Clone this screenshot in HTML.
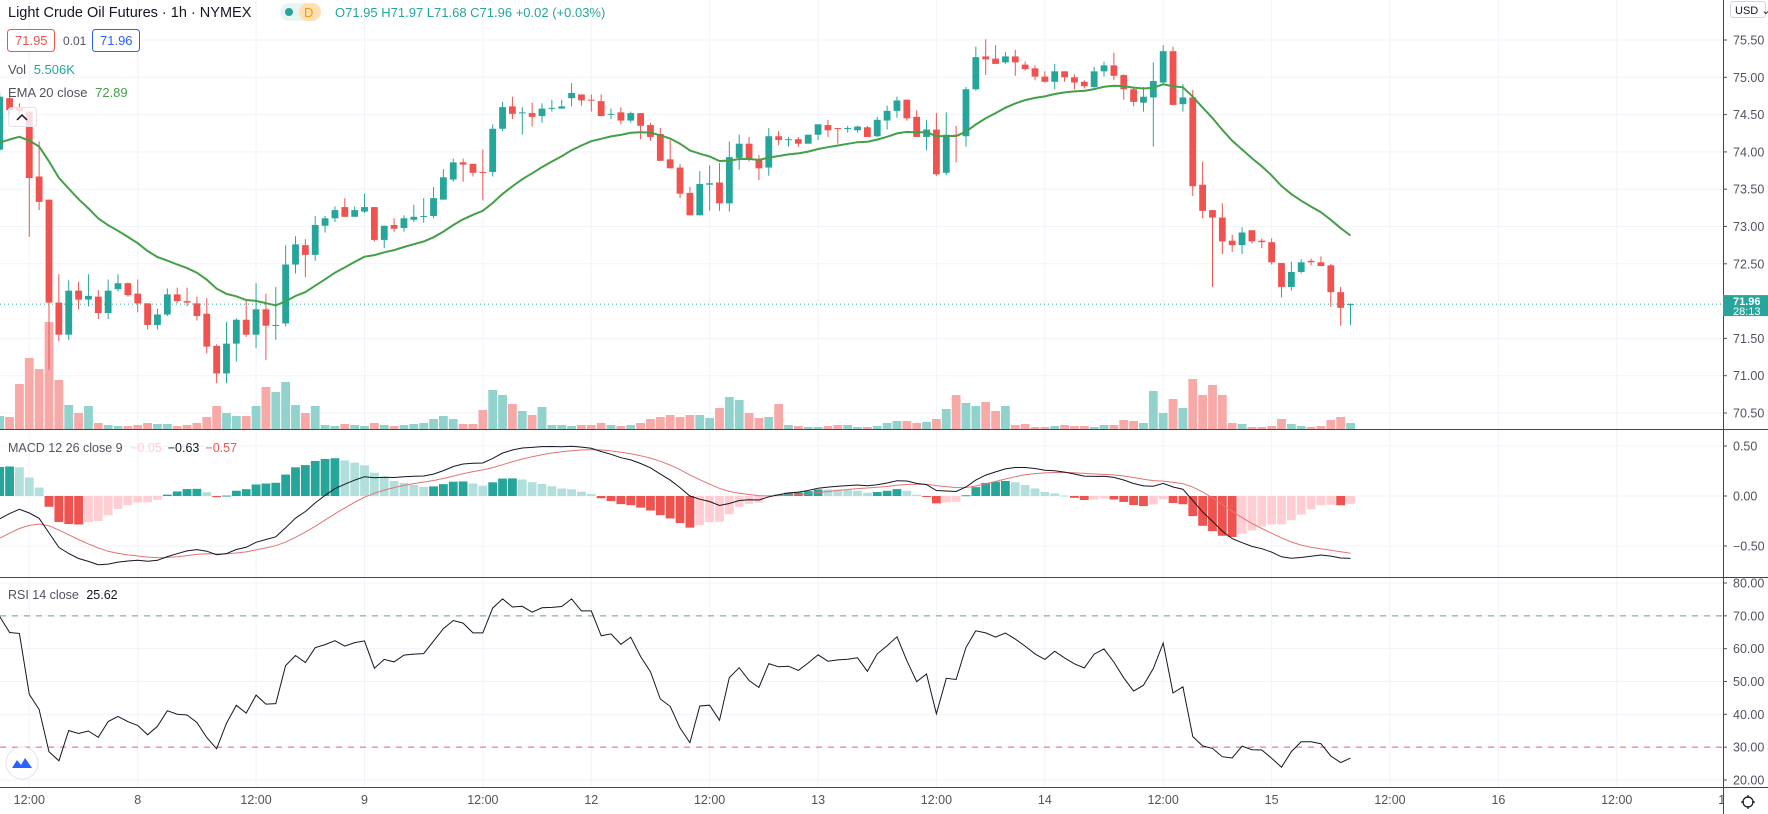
<!DOCTYPE html>
<html><head><meta charset="utf-8"><style>
html,body{margin:0;padding:0;background:#fff;}
svg{display:block;font-family:"Liberation Sans",sans-serif;}
</style></head><body>
<svg id="chart" width="1768" height="814" viewBox="0 0 1768 814" xmlns="http://www.w3.org/2000/svg">
<defs>
<clipPath id="mainClip"><rect x="0" y="0" width="1723" height="429"/></clipPath>
<clipPath id="macdClip"><rect x="0" y="430" width="1723" height="147"/></clipPath>
<clipPath id="rsiClip"><rect x="0" y="578" width="1723" height="209"/></clipPath>
</defs>
<g id="grid"></g>
<g id="vol" clip-path="url(#mainClip)"></g>
<g id="candles" clip-path="url(#mainClip)"></g>
<g id="ema" clip-path="url(#mainClip)"></g>
<g id="macd" clip-path="url(#macdClip)"></g>
<g id="rsi" clip-path="url(#rsiClip)"></g>
<g id="axes"></g>

<!-- header legend -->
<text x="8" y="17" font-size="14.5" fill="#131722">Light Crude Oil Futures · 1h · NYMEX</text>
<rect x="280" y="3" width="41" height="18" rx="9" fill="#e8f5f3"/>
<circle cx="289" cy="12" r="4" fill="#26a69a"/>
<rect x="299" y="3" width="22" height="18" rx="9" fill="#ffe0b2"/>
<text x="304" y="17" font-size="13" fill="#ff9800">D</text>
<text x="335" y="17" font-size="13" fill="#26a69a">O71.95  H71.97  L71.68  C71.96  +0.02 (+0.03%)</text>
<rect x="7.5" y="29.5" width="47" height="22" rx="3" fill="#fff" stroke="#ef5350"/>
<text x="15" y="45" font-size="13" fill="#ef5350">71.95</text>
<text x="63" y="45" font-size="12" fill="#50535e">0.01</text>
<rect x="92.5" y="29.5" width="47" height="22" rx="3" fill="#fff" stroke="#2962ff"/>
<text x="100" y="45" font-size="13" fill="#2962ff">71.96</text>
<text x="8" y="74" font-size="13" fill="#50535e">Vol <tspan fill="#26a69a" dx="4">5.506K</tspan></text>
<text x="8" y="97" font-size="13" fill="#50535e">EMA 20 close <tspan fill="#43a047" dx="4">72.89</tspan></text>
<rect x="8.5" y="107.5" width="28" height="19" rx="3" fill="#fff" fill-opacity="0.8" stroke="#e0e3eb"/>
<path d="M17 120 L22 115 L27 120" fill="none" stroke="#131722" stroke-width="1.5"/>

<text x="8" y="452" font-size="12.5" fill="#50535e">MACD 12 26 close 9 <tspan fill="#ffcdd2" dx="4">−0.05</tspan><tspan fill="#131722" dx="6">−0.63</tspan><tspan fill="#ef5350" dx="6">−0.57</tspan></text>
<text x="8" y="599" font-size="12.5" fill="#50535e">RSI 14 close <tspan fill="#131722" dx="4">25.62</tspan></text>

<circle cx="22" cy="763" r="16" fill="#fff" stroke="#e0e3eb"/>
<path d="M12 768 L17 760 L21 765 L25 758 L32 768 Z" fill="#2962ff"/>

<rect x="1730.5" y="1.5" width="35" height="16" rx="3" fill="#fff" stroke="#d1d4dc"/>
<text x="1735" y="14" font-size="11" fill="#131722">USD ⌄</text>
<g><circle cx="1748" cy="802" r="5" fill="none" stroke="#131722" stroke-width="1.2"/><path d="M1748 795v3M1748 806v3M1741 802h3M1752 802h3" stroke="#131722" stroke-width="1.2"/></g>
</svg>
<script>
const opens=[74.03,74.72,74.60,74.54,73.67,73.36,71.98,71.55,72.14,72.02,72.06,71.84,72.16,72.24,72.10,71.97,71.68,71.82,72.09,72.00,71.97,71.83,71.40,71.03,71.43,71.75,71.55,71.89,71.67,71.70,72.49,72.75,72.62,73.01,73.11,73.26,73.13,73.20,73.26,72.82,73.02,72.98,73.09,73.13,73.14,73.36,73.63,73.86,73.84,73.73,73.73,74.31,74.61,74.52,74.52,74.48,74.58,74.58,74.72,74.77,74.70,74.68,74.50,74.53,74.42,74.52,74.36,74.24,73.90,73.79,73.45,73.15,73.56,73.59,73.31,73.92,74.11,73.90,73.79,74.21,74.16,74.17,74.11,74.23,74.36,74.32,74.31,74.29,74.33,74.21,74.42,74.55,74.70,74.47,74.20,74.30,73.72,74.23,74.21,74.84,75.28,75.25,75.20,75.28,75.17,75.12,75.01,74.94,75.08,75.00,74.94,74.87,75.08,75.16,75.03,74.84,74.66,74.73,74.93,75.35,74.64,74.73,73.56,73.22,73.12,72.81,72.75,72.95,72.81,72.79,72.51,72.19,72.39,72.54,72.52,72.48,72.12,71.95];
const highs=[74.80,74.76,74.65,74.56,74.14,73.36,72.36,72.28,72.26,72.36,72.15,72.29,72.36,72.25,72.29,71.97,71.90,72.17,72.18,72.18,72.06,72.04,71.42,71.72,71.77,72.01,72.24,72.10,72.19,72.75,72.87,72.83,73.14,73.14,73.27,73.38,73.27,73.44,73.26,73.01,73.11,73.15,73.29,73.38,73.53,73.77,73.91,73.91,73.84,74.03,74.37,74.67,74.74,74.60,74.66,74.65,74.70,74.70,74.92,74.77,74.77,74.77,74.58,74.60,74.54,74.52,74.39,74.32,74.16,73.84,73.53,73.74,73.82,73.85,74.14,74.23,74.20,73.96,74.32,74.28,74.20,74.20,74.23,74.37,74.43,74.32,74.35,74.35,74.35,74.47,74.62,74.74,74.70,74.56,74.43,74.52,74.53,74.35,74.87,75.41,75.51,75.43,75.34,75.37,75.21,75.16,75.08,75.18,75.08,75.04,74.96,75.14,75.21,75.33,75.04,74.87,74.87,75.20,75.43,75.41,74.91,74.83,73.87,73.22,73.31,72.89,72.99,72.95,72.84,72.84,72.51,72.53,72.56,72.57,72.60,72.50,72.19,71.97];
const lows=[74.00,74.50,74.50,72.86,73.22,71.08,71.46,71.48,71.89,71.93,71.76,71.76,72.13,72.06,71.85,71.62,71.62,71.80,71.97,71.93,71.74,71.30,70.90,70.90,71.19,71.52,71.37,71.21,71.48,71.66,72.37,72.32,72.54,72.92,73.06,73.13,73.13,73.18,72.80,72.71,72.93,72.93,73.06,73.05,73.11,73.36,73.60,73.60,73.67,73.35,73.67,74.28,74.44,74.23,74.34,74.39,74.54,74.58,74.61,74.62,74.54,74.48,74.44,74.37,74.39,74.17,74.15,73.88,73.78,73.38,73.15,73.15,73.21,73.21,73.20,73.76,73.87,73.62,73.68,74.09,74.07,74.07,74.11,74.16,74.20,74.11,74.26,74.26,74.20,74.20,74.30,74.46,74.42,74.20,74.02,73.68,73.69,73.86,74.07,74.82,75.03,75.18,75.18,75.02,75.09,74.96,74.93,74.84,74.94,74.84,74.85,74.85,75.01,74.96,74.70,74.61,74.54,74.07,74.90,74.62,74.54,73.41,73.11,72.19,72.63,72.66,72.63,72.77,72.71,72.49,72.05,72.14,72.37,72.48,72.47,71.92,71.67,71.68];
const closes=[74.74,74.56,74.55,73.65,73.33,71.98,71.55,72.14,72.02,72.07,71.84,72.14,72.24,72.08,71.97,71.68,71.82,72.09,72.00,71.98,71.80,71.39,71.03,71.43,71.75,71.55,71.89,71.67,71.68,72.49,72.76,72.62,73.02,73.11,73.22,73.13,73.22,73.26,72.82,73.01,72.97,73.11,73.13,73.14,73.38,73.66,73.86,73.83,73.72,73.72,74.31,74.60,74.51,74.53,74.47,74.58,74.59,74.61,74.79,74.69,74.69,74.48,74.51,74.42,74.52,74.35,74.20,73.88,73.78,73.44,73.15,73.57,73.58,73.31,73.93,74.11,73.90,73.78,74.21,74.16,74.17,74.11,74.23,74.37,74.29,74.31,74.32,74.34,74.20,74.43,74.55,74.69,74.45,74.20,74.30,73.70,74.23,74.21,74.84,75.27,75.24,75.18,75.28,75.20,75.11,75.01,74.94,75.08,75.00,74.93,74.88,75.08,75.16,75.02,74.84,74.67,74.74,74.95,75.35,74.63,74.73,73.54,73.21,73.12,72.80,72.75,72.92,72.80,72.79,72.52,72.19,72.39,72.52,72.52,72.47,72.12,71.91,71.96];
const volumes=[13,12,45,71,60,107,49,24,16,23,6,4,3,3,4,6,5,5,3,4,6,12,23,16,13,13,23,42,37,47,24,16,23,4,3,5,4,3,6,4,3,4,5,6,10,13,10,5,5,19,39,34,25,18,14,22,4,4,3,4,4,6,4,3,4,6,10,12,14,12,14,14,11,21,32,29,16,11,12,25,4,3,2,2,3,4,4,2,2,3,6,8,8,6,7,10,20,34,26,23,27,18,23,4,5,2,2,3,4,3,3,2,4,4,9,8,6,38,16,30,21,50,34,44,34,6,5,2,2,3,10,5,3,2,3,9,12,6];
const priceTicks=["75.50","75.00","74.50","74.00","73.50","73.00","72.50","72.00","71.50","71.00","70.50"];
const macdTicks=["0.50","0.00","−0.50"];
const rsiTicks=["80.00","70.00","60.00","50.00","40.00","30.00","20.00"];
const timeTickIdx=[3,14,26,37,49,60,72,83,95,106,118,129,141,152,164,175];
const timeTickLabels=["12:00","8","12:00","9","12:00","12","12:00","13","12:00","14","12:00","15","12:00","16","12:00","17"];
const lastPrice=71.96, lastCountdown="28:13";

const NS="http://www.w3.org/2000/svg";
const X0=-0.3, STEP=9.86, AXX=1723;
function xOf(i){return X0+STEP*i;}
function priceY(p){return 40+(75.5-p)*74.6;}
function volY(v){return 429-v*1.0;}
function macdY(v){return 496-v*100;}
function histY(v){return 496-v*150;}
function rsiY(v){return 780-(v-20)*3.283;}
function el(tag,attrs,parent){const e=document.createElementNS(NS,tag);for(const k in attrs)e.setAttribute(k,attrs[k]);parent.appendChild(e);return e;}

const grid=document.getElementById('grid');
const axes=document.getElementById('axes');
const UP="#26a69a", DN="#ef5350";

// vertical grid + time labels
timeTickIdx.forEach((ti,k)=>{
  const x=xOf(ti);
  if(x<AXX){const g=el('line',{x1:x,x2:x,y1:0,y2:787,stroke:"#f0f3fa","stroke-width":1},grid);
  
  }
  const t=el('text',{x:x,y:804,"font-size":12.5,fill:"#50535e","text-anchor":"middle"},axes);
  t.textContent=timeTickLabels[k];
  
  
});
// cover beyond axis for time labels
el('rect',{x:AXX,y:788,width:45,height:26,fill:"#fff"},axes);
// price grid + labels
priceTicks.forEach(s=>{
  const y=priceY(parseFloat(s));
  const g=el('line',{x1:0,x2:AXX,y1:y,y2:y,stroke:"#f0f3fa"},grid);
  
  
  el('line',{x1:AXX,x2:AXX+4,y1:y,y2:y,stroke:"#50535e"},axes);
  const t=el('text',{x:1733,y:y+4.5,"font-size":12.5,fill:"#50535e"},axes);
  t.textContent=s;
  
  
});
macdTicks.forEach(s=>{
  const y=macdY(parseFloat(s.replace('−','-')));
  const g=el('line',{x1:0,x2:AXX,y1:y,y2:y,stroke:"#f0f3fa"},grid);
  
  
  el('line',{x1:AXX,x2:AXX+4,y1:y,y2:y,stroke:"#50535e"},axes);
  const t=el('text',{x:1733,y:y+4.5,"font-size":12.5,fill:"#50535e"},axes);
  t.textContent=s;
  
  
});
rsiTicks.forEach(s=>{
  const y=rsiY(parseFloat(s));
  const g=el('line',{x1:0,x2:AXX,y1:y,y2:y,stroke:"#f0f3fa"},grid);
  
  
  el('line',{x1:AXX,x2:AXX+4,y1:y,y2:y,stroke:"#50535e"},axes);
  const t=el('text',{x:1733,y:y+4.5,"font-size":12.5,fill:"#50535e"},axes);
  t.textContent=s;
  
  
});
// RSI bands
[[70,"#6b9e86"],[30,"#e06666"]].forEach(([v,c])=>{
  const l=el('line',{x1:0,x2:AXX,y1:rsiY(v),y2:rsiY(v),stroke:c,"stroke-dasharray":"6 6","stroke-width":1},grid);
  
  
});
// pane separators and axis
[[429],[577],[787]].forEach(([y])=>{
  const l=el('line',{x1:0,x2:1768,y1:y+0.5,y2:y+0.5,stroke:"#434651","stroke-width":1},axes);
  
  
});
const ax=el('line',{x1:AXX+0.5,x2:AXX+0.5,y1:0,y2:814,stroke:"#434651"},axes);



// volume
const volG=document.getElementById('vol');
volumes.forEach((v,i)=>{
  const up=closes[i]>=opens[i];
  const r=el('rect',{x:xOf(i)-4.4,y:volY(v),width:8.8,height:429-volY(v),fill:up?"#92d2cc":"#f7a9a7"},volG);
  
  
});
// last price line
const lp=el('line',{x1:0,x2:AXX,y1:priceY(lastPrice),y2:priceY(lastPrice),stroke:"#26a69a","stroke-dasharray":"1 3"},document.getElementById('candles'));


// candles
const cG=document.getElementById('candles');
closes.forEach((c,i)=>{
  const o=opens[i],up=c>=o,col=up?UP:DN,x=xOf(i);
  const w=el('line',{x1:x,x2:x,y1:priceY(highs[i]),y2:priceY(lows[i]),stroke:col,"stroke-width":1},cG);
  
  
  const yt=priceY(Math.max(o,c)),yb=priceY(Math.min(o,c));
  const b=el('rect',{x:x-3.4,y:yt,width:6.8,height:Math.max(1,yb-yt),fill:col},cG);
  
  
});
// EMA 20
let e20=74.06; const emaPts=[];
closes.forEach((c,i)=>{e20=e20+(2/21)*(c-e20);emaPts.push(xOf(i).toFixed(1)+","+priceY(e20).toFixed(1));});
const emaL=el('polyline',{points:emaPts.join(" "),fill:"none",stroke:"#43a047","stroke-width":2},document.getElementById('ema'));


// MACD
let e12=74.0,e26=74.31,sig=-0.47;const mPts=[],sPts=[],hist=[];
closes.forEach((c,i)=>{e12+= (2/13)*(c-e12);e26+=(2/27)*(c-e26);const m=e12-e26;sig+=(2/10)*(m-sig);
  mPts.push(xOf(i).toFixed(1)+","+macdY(m).toFixed(1));sPts.push(xOf(i).toFixed(1)+","+macdY(sig).toFixed(1));hist.push(m-sig);});
const mG=document.getElementById('macd');
hist.forEach((h,i)=>{
  const prev=i>0?hist[i-1]:h;
  let col;
  if(h>=0)col=h>=prev?"#26a69a":"#b2dfdb";else col=h<prev?"#ef5350":"#ffcdd2";
  const y1=histY(Math.max(h,0)),y2=histY(Math.min(h,0));
  const r=el('rect',{x:xOf(i)-4.4,y:y1,width:8.8,height:Math.max(1,y2-y1),fill:col},mG);
  
  
});
const sl=el('polyline',{points:sPts.join(" "),fill:"none",stroke:"#e57373","stroke-width":1},mG);


const ml=el('polyline',{points:mPts.join(" "),fill:"none",stroke:"#131722","stroke-width":1},mG);


// RSI
let ag=0.084,al=0.06,pc=opens[0];const rPts=[];
closes.forEach((c,i)=>{const d=c-pc;pc=c;ag=(ag*13+Math.max(d,0))/14;al=(al*13+Math.max(-d,0))/14;
  const r=al===0?100:100-100/(1+ag/al);rPts.push(xOf(i).toFixed(1)+","+rsiY(r).toFixed(1));});
const rl=el('polyline',{points:rPts.join(" "),fill:"none",stroke:"#131722","stroke-width":1},document.getElementById('rsi'));


// last price label
const ly=priceY(lastPrice);
const lb=el('rect',{x:AXX,y:ly-9,width:45,height:21,fill:"#26a69a"},axes);


const t1=el('text',{x:1733,y:ly+1,"font-size":11,"font-weight":"bold",fill:"#fff"},axes);
t1.textContent=lastPrice.toFixed(2);


const t2=el('text',{x:1733,y:ly+11,"font-size":11,fill:"#fff"},axes);
t2.textContent=lastCountdown;


</script>
</body></html>
